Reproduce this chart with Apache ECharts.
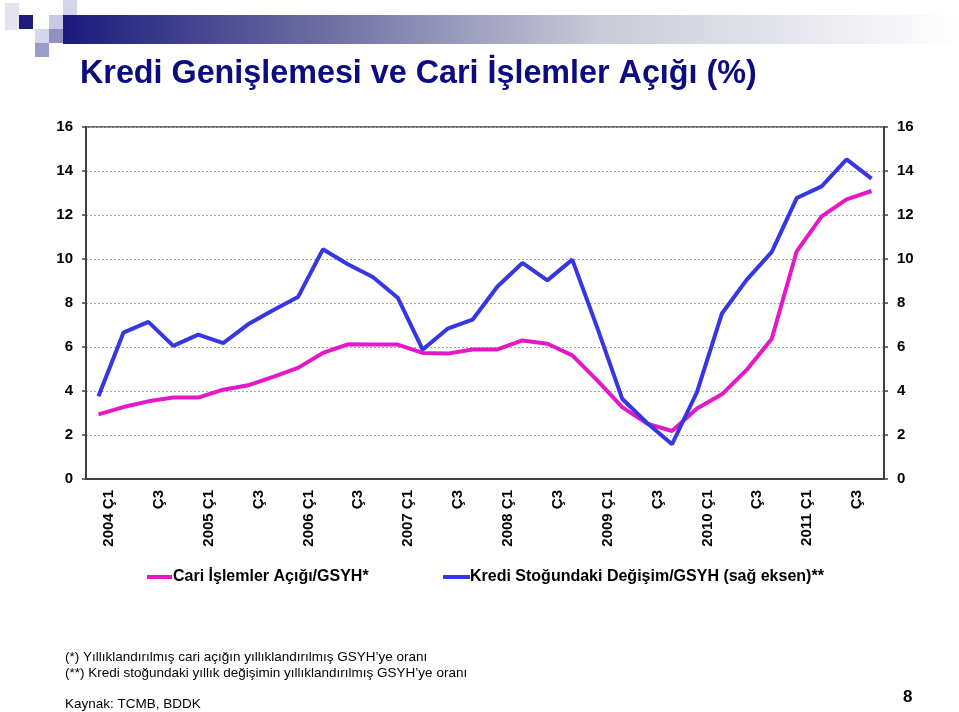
<!DOCTYPE html>
<html><head><meta charset="utf-8">
<script src="https://cdn.jsdelivr.net/npm/echarts@6/dist/echarts.min.js"></script>
<style>html,body{margin:0;padding:0;background:#fff}#c{width:959px;height:712px}</style>
</head><body><div id="c"></div>
<script>
const categories = ["2004 Ç1","Ç2","Ç3","Ç4","2005 Ç1","Ç2","Ç3","Ç4","2006 Ç1","Ç2","Ç3","Ç4","2007 Ç1","Ç2","Ç3","Ç4",
  "2008 Ç1","Ç2","Ç3","Ç4","2009 Ç1","Ç2","Ç3","Ç4","2010 Ç1","Ç2","Ç3","Ç4","2011 Ç1","Ç2","Ç3","Ç4"];
const cariAcik = [2.94,3.27,3.53,3.70,3.70,4.06,4.26,4.64,5.05,5.73,6.12,6.11,6.11,5.73,5.70,5.89,
  5.89,6.30,6.15,5.62,4.48,3.27,2.52,2.18,3.20,3.85,4.97,6.38,10.35,11.94,12.71,13.09];
const krediDegisim = [3.76,6.65,7.14,6.05,6.56,6.18,7.03,7.67,8.27,10.44,9.76,9.18,8.24,5.88,6.83,7.24,
  8.75,9.82,9.03,9.97,6.88,3.65,2.55,1.58,3.95,7.52,9.06,10.32,12.77,13.30,14.53,13.65];
const seriesNames = ["Cari İşlemler Açığı/GSYH*","Kredi Stoğundaki Değişim/GSYH (sağ eksen)**"];
const titleText = "Kredi Genişlemesi ve Cari İşlemler Açığı (%)";
const notes = ["(*) Yıllıklandırılmış cari açığın yıllıklandırılmış GSYH’ye oranı",
  "(**) Kredi stoğundaki yıllık değişimin yıllıklandırılmış GSYH’ye oranı"];
const sourceText = "Kaynak: TCMB, BDDK";
const pageNo = "8";

const MAG = '#E418C8', BLU = '#3636E2';
const chart = echarts.init(document.getElementById('c'));
const FF = '"Liberation Sans", Arial, sans-serif';
const NARROW = '"Liberation Sans Narrow", "Liberation Sans", sans-serif';
const yAxisCommon = {
  type: 'value', min: 0, max: 16, interval: 2,
  axisLine: {show: true, lineStyle: {color: '#404040', width: 2}},
  axisTick: {show: true, length: 4, lineStyle: {color: '#404040', width: 1.5}},
  axisLabel: {color: '#000', fontFamily: FF, fontWeight: 'bold', fontSize: 15, margin: 13},
};
chart.setOption({
  animation: false,
  grid: {left: 86, right: 75, top: 127, bottom: 233, show: true, borderColor: '#404040', borderWidth: 1.5, containLabel: false},
  xAxis: {
    type: 'category', data: categories, boundaryGap: true,
    axisLine: {show: true, lineStyle: {color: '#404040', width: 2}},
    axisTick: {show: false},
    axisLabel: {interval: 1, rotate: 90, color: '#000', fontFamily: FF, fontWeight: 'bold', fontSize: 15, margin: 11, verticalAlign: 'top', padding: [3,0,0,0]}
  },
  yAxis: [
    Object.assign({}, yAxisCommon, {position: 'left',
      splitLine: {show: true, lineStyle: {color: '#a8a8a8', type: [2,2], width: 1}}}),
    Object.assign({}, yAxisCommon, {position: 'right', splitLine: {show: false}})
  ],
  legend: [
    {data: [seriesNames[0]], left: 142, top: 564, icon: 'rect', itemWidth: 25, itemHeight: 4, itemGap: 0,
     textStyle: {fontFamily: FF, fontWeight: 'bold', fontSize: 16, color: '#000', padding: [0,0,0,-4]}},
    {data: [seriesNames[1]], left: 438, top: 564, icon: 'rect', itemWidth: 27, itemHeight: 4, itemGap: 0,
     textStyle: {fontFamily: FF, fontWeight: 'bold', fontSize: 16, color: '#000', padding: [0,0,0,-5]}}
  ],
  series: [
    {name: seriesNames[0], type: 'line', data: cariAcik, yAxisIndex: 0, symbol: 'none',
     lineStyle: {color: MAG, width: 4}, itemStyle: {color: MAG}, z: 3},
    {name: seriesNames[1], type: 'line', data: krediDegisim, yAxisIndex: 1, symbol: 'none',
     lineStyle: {color: BLU, width: 4}, itemStyle: {color: BLU}, z: 4}
  ],
  graphic: [
    {type: 'rect', shape: {x: 63, y: 15, width: 896, height: 29}, silent: true,
     style: {fill: new echarts.graphic.LinearGradient(0,0,1,0,[
       {offset: 0, color: '#1a1a7c'}, {offset: 0.3, color: '#7070a4'}, {offset: 0.6, color: '#cacad8'}, {offset: 1, color: '#ffffff'}])}},
    {type: 'rect', shape: {x: 5, y: 3, width: 14, height: 27}, style: {fill: '#e4e4f0'}},
    {type: 'rect', shape: {x: 19, y: 15, width: 14, height: 14}, style: {fill: '#1c1c7a'}},
    {type: 'rect', shape: {x: 49, y: 15, width: 14, height: 14}, style: {fill: '#c8c8e4'}},
    {type: 'rect', shape: {x: 63, y: 0, width: 14, height: 15}, style: {fill: '#d4d4ea'}},
    {type: 'rect', shape: {x: 35, y: 29, width: 14, height: 14}, style: {fill: '#d6d6ea'}},
    {type: 'rect', shape: {x: 49, y: 29, width: 14, height: 14}, style: {fill: '#9090c2'}},
    {type: 'rect', shape: {x: 35, y: 43, width: 14, height: 14}, style: {fill: '#9c9cca'}},
    {type: 'text', left: 80, top: 58, style: {text: titleText, fill: '#0c0c80', font: 'bold 32.3px ' + FF}},
    {type: 'text', left: 65, top: 650, style: {text: notes[0], fill: '#000', font: '13.5px ' + NARROW}},
    {type: 'text', left: 65, top: 666, style: {text: notes[1], fill: '#000', font: '13.5px ' + NARROW}},
    {type: 'text', left: 65, top: 697, style: {text: sourceText, fill: '#000', font: '13.5px ' + NARROW}},
    {type: 'text', left: 903, top: 689, style: {text: pageNo, fill: '#000', font: 'bold 17px ' + FF}}
  ]
});
</script></body></html>
